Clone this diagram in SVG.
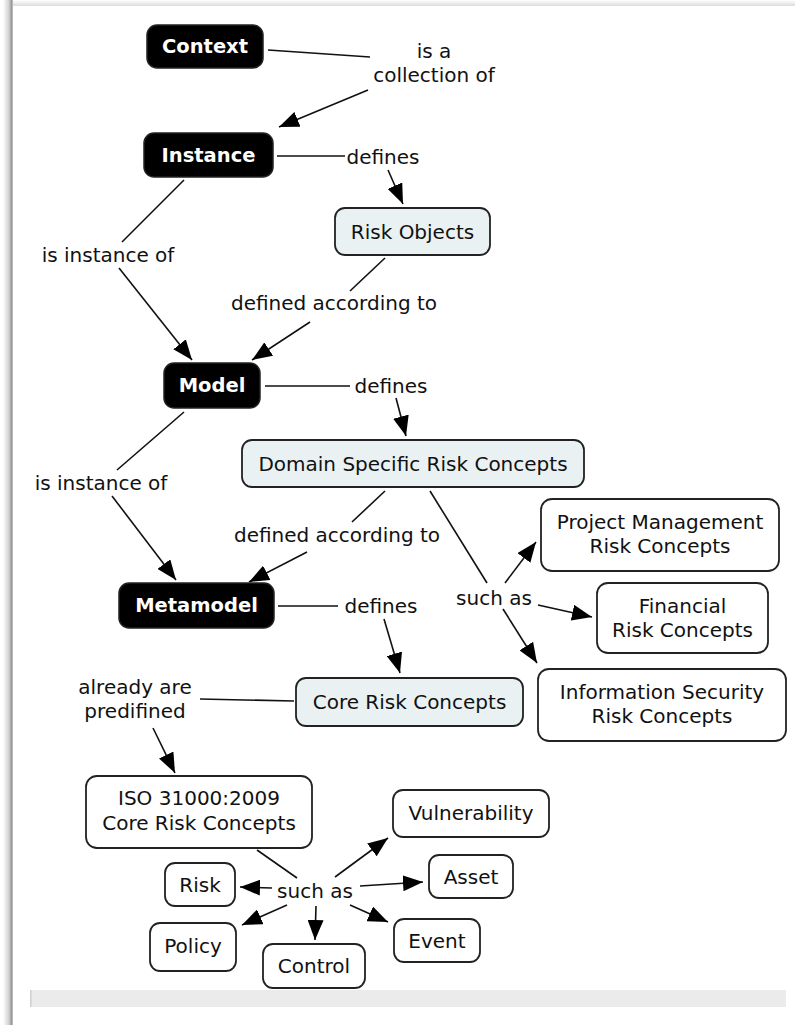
<svg xmlns="http://www.w3.org/2000/svg" width="795" height="1025" viewBox="0 0 795 1025">
<defs>
<linearGradient id="gl" x1="0" y1="0" x2="1" y2="0">
<stop offset="0" stop-color="#ffffff"/>
<stop offset="0.6" stop-color="#d0d0d0"/>
<stop offset="0.85" stop-color="#9a9a9a"/>
<stop offset="1" stop-color="#c8c8c8"/>
</linearGradient>
<linearGradient id="gt" x1="0" y1="0" x2="0" y2="1">
<stop offset="0" stop-color="#ffffff"/>
<stop offset="1" stop-color="#dcdcdc"/>
</linearGradient>
<marker id="ah" viewBox="0 0 20 16" refX="20" refY="8" markerWidth="20" markerHeight="16" markerUnits="userSpaceOnUse" orient="auto">
<path d="M0,0 L20,8 L0,16 Z" fill="#000"/>
</marker>
<style>
text{font-family:"DejaVu Sans","Verdana",sans-serif;font-size:20px;fill:#111;text-anchor:middle;dominant-baseline:central}
.dark rect{fill:#000;stroke:#222;stroke-width:1.5}
.dark text{fill:#fff;font-weight:bold;font-size:19.5px}
.blue rect{fill:#e9f1f3;stroke:#222;stroke-width:1.8}
.white rect{fill:#fff;stroke:#222;stroke-width:1.8}
#connectors line{stroke:#111;stroke-width:1.6;fill:none}
#connectors line.arr{marker-end:url(#ah)}
</style>
</defs>
<rect x="0" y="0" width="795" height="1025" fill="#fff"/>
<rect x="3" y="0" width="10" height="1025" fill="url(#gl)"/>
<rect x="13" y="0" width="782" height="6" fill="url(#gt)"/>
<rect x="30" y="990" width="756" height="17" fill="#ebebeb"/>
<rect x="30" y="990" width="1.5" height="17" fill="#cfcfcf"/>

<g id="connectors">
<line x1="268" y1="50" x2="370" y2="57"/>
<line class="arr" x1="368" y1="90" x2="279" y2="127"/>
<line x1="277" y1="156" x2="345" y2="156"/>
<line class="arr" x1="388" y1="170" x2="403" y2="204"/>
<line x1="184" y1="180" x2="122" y2="242"/>
<line class="arr" x1="119" y1="268" x2="192" y2="360"/>
<line x1="385" y1="258" x2="350" y2="291"/>
<line class="arr" x1="310" y1="322" x2="252" y2="360"/>
<line x1="265" y1="386" x2="350" y2="386"/>
<line class="arr" x1="396" y1="398" x2="406" y2="436"/>
<line x1="184" y1="412" x2="117" y2="470"/>
<line class="arr" x1="112" y1="496" x2="176" y2="580"/>
<line x1="385" y1="491" x2="352" y2="522"/>
<line class="arr" x1="307" y1="552" x2="249" y2="582"/>
<line x1="278" y1="606" x2="338" y2="606"/>
<line class="arr" x1="384" y1="619" x2="400" y2="673"/>
<line x1="430" y1="491" x2="487" y2="583"/>
<line class="arr" x1="505" y1="583" x2="536" y2="542"/>
<line class="arr" x1="538" y1="605" x2="592" y2="617"/>
<line class="arr" x1="503" y1="609" x2="537" y2="663"/>
<line x1="200" y1="699" x2="294" y2="701"/>
<line class="arr" x1="153" y1="728" x2="175" y2="773"/>
<line x1="257" y1="850" x2="297" y2="878"/>
<line class="arr" x1="272" y1="888" x2="240" y2="887"/>
<line class="arr" x1="287" y1="905" x2="242" y2="925"/>
<line class="arr" x1="316" y1="906" x2="315" y2="940"/>
<line class="arr" x1="350" y1="905" x2="388" y2="922"/>
<line class="arr" x1="360" y1="886" x2="423" y2="882"/>
<line class="arr" x1="335" y1="877" x2="388" y2="838"/>
</g>

<g id="labels">
<text x="434" y="51">is a</text>
<text x="434" y="75">collection of</text>
<text x="383" y="157">defines</text>
<text x="108" y="255">is instance of</text>
<text x="334" y="303">defined according to</text>
<text x="391" y="386">defines</text>
<text x="101" y="483">is instance of</text>
<text x="337" y="535">defined according to</text>
<text x="381" y="606">defines</text>
<text x="494" y="598">such as</text>
<text x="135" y="687">already are</text>
<text x="135" y="711">predifined</text>
<text x="315" y="891">such as</text>
</g>

<g id="n-context" class="dark"><rect x="147" y="25" width="116" height="43" rx="10"/><text x="205" y="46.5">Context</text></g>
<g id="n-instance" class="dark"><rect x="144" y="133" width="129" height="44" rx="10"/><text x="208.5" y="155">Instance</text></g>
<g id="n-model" class="dark"><rect x="164" y="363" width="96" height="45" rx="10"/><text x="212" y="385.5">Model</text></g>
<g id="n-metamodel" class="dark"><rect x="119" y="583" width="155" height="45" rx="10"/><text x="196.5" y="605.5">Metamodel</text></g>

<g id="n-riskobjects" class="blue"><rect x="335" y="208" width="155" height="47" rx="10"/><text x="412.5" y="231.5">Risk Objects</text></g>
<g id="n-domain" class="blue"><rect x="242" y="440" width="342" height="47" rx="10"/><text x="413" y="463.5">Domain Specific Risk Concepts</text></g>
<g id="n-core" class="blue"><rect x="296" y="678" width="227" height="48" rx="10"/><text x="409.5" y="702">Core Risk Concepts</text></g>

<g id="n-pm" class="white"><rect x="541" y="499" width="238" height="72" rx="11"/><text x="660" y="522">Project Management</text><text x="660" y="546">Risk Concepts</text></g>
<g id="n-fin" class="white"><rect x="597" y="583" width="171" height="70" rx="11"/><text x="682.5" y="606">Financial</text><text x="682.5" y="630">Risk Concepts</text></g>
<g id="n-infosec" class="white"><rect x="538" y="669" width="248" height="72" rx="11"/><text x="662" y="692">Information Security</text><text x="662" y="716">Risk Concepts</text></g>
<g id="n-iso" class="white"><rect x="86" y="776" width="226" height="72" rx="11"/><text x="199" y="798">ISO 31000:2009</text><text x="199" y="823">Core Risk Concepts</text></g>
<g id="n-vuln" class="white"><rect x="393" y="790" width="156" height="47" rx="10"/><text x="471" y="812.5">Vulnerability</text></g>
<g id="n-asset" class="white"><rect x="429" y="855" width="84" height="43" rx="10"/><text x="471" y="876.5">Asset</text></g>
<g id="n-event" class="white"><rect x="394" y="919" width="86" height="43" rx="10"/><text x="437" y="940.5">Event</text></g>
<g id="n-risk" class="white"><rect x="165" y="863" width="70" height="43" rx="10"/><text x="200" y="884.5">Risk</text></g>
<g id="n-policy" class="white"><rect x="150" y="923" width="86" height="48" rx="10"/><text x="193" y="946">Policy</text></g>
<g id="n-control" class="white"><rect x="263" y="944" width="102" height="44" rx="10"/><text x="314" y="966">Control</text></g>
</svg>
